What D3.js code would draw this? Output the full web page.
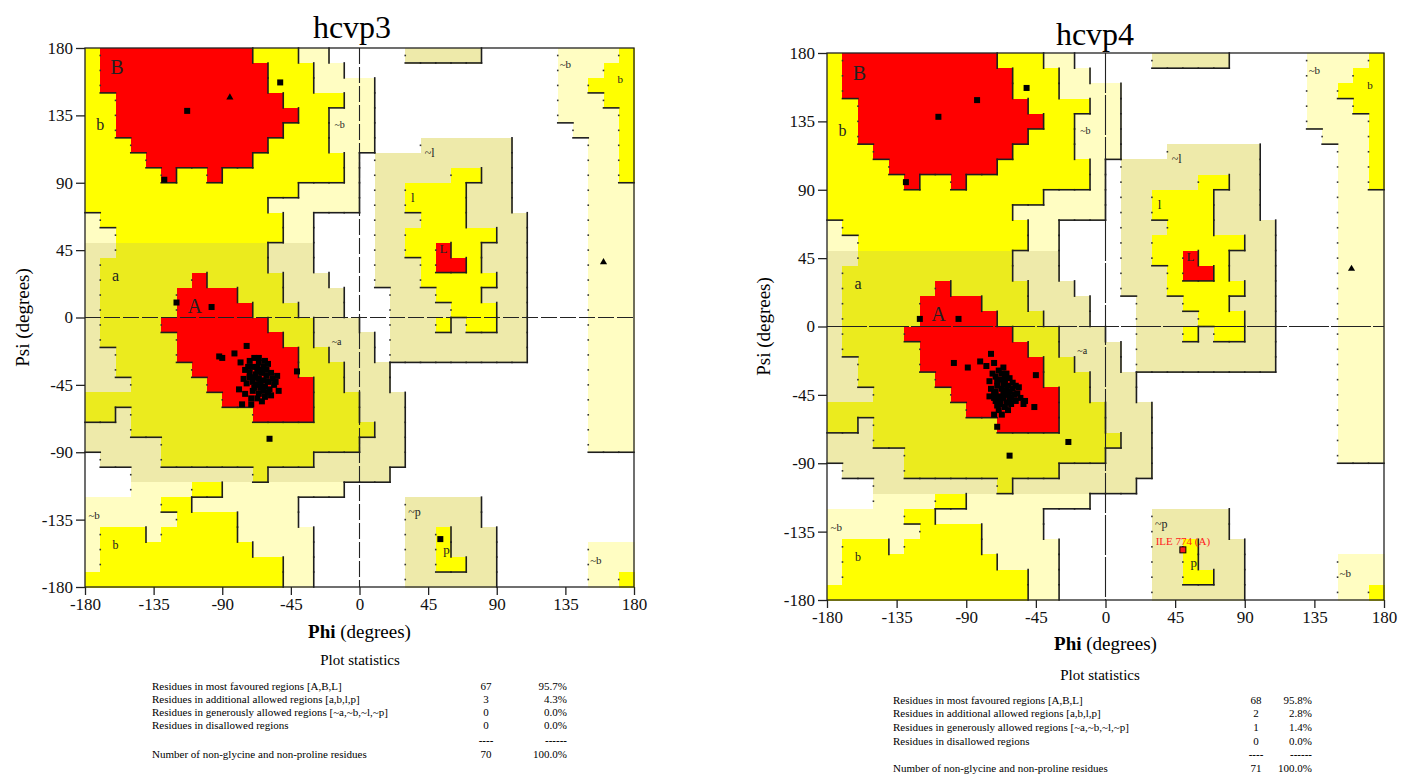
<!DOCTYPE html>
<meta charset="utf-8">
<script src="https://d3js.org/d3.v7.min.js"></script>
<style>
  body { margin: 0; background: #fff; }
  text { font-family: "Liberation Serif", "Times New Roman", serif; }
</style>
<div id="my_dataviz"></div>

<script>

// Region map on a 10 degree grid, top row = psi 170..180, left col = phi -180..-170
// R core, Y allowed (b,l,p), y allowed (a), k generous (~a,~l,~p), c generous (~b), W disallowed
var regionRows = [
  "Y R10 Y3 c2 W5 k5 W5 c4 Y",
  "Y R11 Y3 c2 W14 c3 Y2",
  "Y R11 Y3 c4 W12 c2 Y3",
  "Y2 R11 Y4 c2 W12 c3 Y2",
  "Y2 R12 Y2 c3 W12 c4 Y",
  "Y2 R11 Y3 c3 W13 c3 Y",
  "Y3 R9 Y4 c3 W3 k6 W5 c2 Y",
  "Y4 R7 Y6 c W k9 W5 c2 Y",
  "Y5 R Y2 R Y8 c W k5 Y2 k2 W5 c2 Y",
  "Y14 c4 W k2 Y4 k3 W5 c3",
  "Y12 c6 W k2 Y4 k3 W5 c3",
  "c Y12 c2 W4 k3 Y3 k4 W4 c3",
  "c2 Y11 c2 W4 k2 Y6 k2 W4 c3",
  "k2 y10 k3 W4 k2 Y2 R Y2 k3 W4 c3",
  "k y11 k3 W4 k3 Y R2 Y k3 W4 c3",
  "k y6 R y5 k3 W3 k3 Y5 k2 W4 c3",
  "k y5 R4 y3 k4 W3 k3 Y3 k3 W4 c3",
  "k y5 R5 y3 k3 W3 k4 Y3 k2 W4 c3",
  "k y4 R7 y3 k3 W2 k3 Y k Y2 k2 W4 c3",
  "k y5 R7 y2 k4 W k9 W4 c3",
  "k2 y4 R8 y2 k3 W k9 W4 c3",
  "k2 y5 R7 y3 k3 W13 c3",
  "k3 y5 R7 y2 k3 W13 c3",
  "y9 R6 y3 k3 W12 c3",
  "y2 k y8 R4 y3 k3 W12 c3",
  "k3 y16 k2 W12 c3",
  "k5 y13 k3 W12 c3",
  "W k4 y10 k6 W15",
  "W3 k8 y k8 W16",
  "W3 c4 Y2 c8 W19",
  "c5 Y2 c7 W7 k5 W10",
  "c6 Y4 c4 W7 k5 W10",
  "c Y3 c Y5 c5 W6 k2 Y k3 W9",
  "c Y10 c4 W6 k2 Y k3 W6 c3",
  "c Y12 c2 W6 k2 Y2 k2 W6 c3",
  "Y13 c2 W6 k6 W6 c2 Y"
];

var angleTicks = [-180, -135, -90, -45, 0, 45, 90, 135, 180];

// region labels [text, phi, psi, size]
var regionLabels = [
  ["B", -159, 167, 20], ["b", -170, 129, 16], ["~b", -13, 129, 10],
  ["a", -160, 28, 16], ["A", -108, 8, 20], ["~a", -15, -16, 10],
  ["~b", -174, -132, 11], ["b", -160, -152, 12],
  ["~l", 46, 110, 12], ["l", 35, 80, 13], ["L", 55, 46, 13],
  ["~b", 135, 169, 11], ["b", 171, 159, 11],
  ["~p", 36, -130, 12], ["p", 57, -155, 13], ["~b", 155, -162, 11]
];

// hcvp3 residues [phi, psi]
var hcvp3Residues = [
  [-52,157],[-113,138],[-128,92],[-120,10],[-97,7],[53,-148],
  [-74,-19],[-92,-26],[-90,-27],[-82,-24],[-41,-36],[-59,-81],
  [-78,-30],[-72,-29],[-69,-27],[-66,-30],[-63,-33],[-70,-33],[-75,-35],[-67,-36],
  [-64,-37],[-61,-35],[-58,-37],[-54,-39],[-69,-40],[-66,-41],[-63,-42],[-60,-43],
  [-72,-40],[-79,-48],[-68,-45],[-65,-47],[-62,-46],[-59,-48],[-56,-45],[-53,-49],
  [-70,-49],[-66,-51],[-62,-53],[-58,-52],[-74,-44],[-71,-54],[-77,-58],[-71,-58],
  [-64,-56],[-67,-33],[-65,-44],[-61,-39],[-68,-38],[-63,-49],[-72,-37],[-57,-41],
  [-66,-27],[-60,-31],[-69,-47],[-73,-33],[-67,-54],[-75,-51],[-64,-35],[-55,-43],
  [-70,-43],[-62,-29],[-76,-41],[-60,-50]
];
var hcvp3Glycines = [[-85,147],[160,37]];

// hcvp4 residues [phi, psi]
var hcvp4Residues = [
  [-51,157],[-83,149],[-108,138],[-129,95],[-120,5],[-95,5],
  [-98,-24],[-89,-27],[-81,-23],[-74,-18],[-45,-32],[-46,-53],[-52,-49],
  [-72,-58],[-70,-66],[-62,-85],[-24,-76],
  [-77,-26],[-72,-24],[-69,-29],[-66,-27],[-64,-31],[-71,-33],[-75,-36],[-68,-35],
  [-65,-37],[-62,-34],[-70,-39],[-67,-41],[-64,-42],[-72,-44],[-69,-46],[-66,-47],
  [-63,-45],[-60,-41],[-57,-44],[-55,-47],[-58,-49],[-61,-51],[-68,-51],[-65,-53],
  [-71,-49],[-74,-41],[-67,-31],[-63,-39],[-70,-36],[-66,-44],[-62,-48],[-69,-55],
  [-73,-31],[-60,-37],[-56,-40],[-64,-50],[-67,-58],[-71,-43],[-65,-34],[-59,-45],
  [-53,-51],[-68,-48],[-62,-43],[-75,-46],[-70,-52],[-63,-55],[-58,-39],[-66,-38],
  [-72,-47],[-61,-47]
];
var hcvp4Glycines = [[159,38]];
var hcvp4Flagged = [[50,-147,"ILE 774 (A)"]];

// statistics
var statLabels = [
  "Residues in most favoured regions  [A,B,L]",
  "Residues in additional allowed regions  [a,b,l,p]",
  "Residues in generously allowed regions  [~a,~b,~l,~p]",
  "Residues in disallowed regions",
  "Number of non-glycine and non-proline residues"
];
var hcvp3Counts = ["67", "3", "0", "0", "70"];
var hcvp3Pcts = ["95.7%", "4.3%", "0.0%", "0.0%", "100.0%"];
var hcvp4Counts = ["68", "2", "1", "0", "71"];
var hcvp4Pcts = ["95.8%", "2.8%", "1.4%", "0.0%", "100.0%"];

// ---------------------------------------------------------------
var svg = d3.select('#my_dataviz')
  .append('svg')
    .attr('width', 1411)
    .attr('height', 776);

var fillFor = { R: '#ff0000', Y: '#ffff00', y: '#ebeb1e', k: '#eeeaaa', c: '#fffdc2', W: '#ffffff' };
var levelFor = { R: 3, Y: 2, y: 2, k: 1, c: 1, W: 0 };

function expandRow(s) {
  var out = [];
  s.split(' ').forEach(function(tok) {
    var n = tok.length > 1 ? +tok.slice(1) : 1;
    for (var i = 0; i < n; i++) out.push(tok[0]);
  });
  return out;
}
var grid = regionRows.map(expandRow);

function drawPanel(p) {
  var w = p.x1 - p.x0, h = p.y1 - p.y0;
  var g = svg.append('g').attr('transform', 'translate(' + p.x0 + ',' + p.y0 + ')');

  var x = d3.scaleLinear().domain([-180, 180]).range([0, w]);
  var y = d3.scaleLinear().domain([-180, 180]).range([h, 0]);

  // cells
  var cells = [];
  grid.forEach(function(row, r) {
    row.forEach(function(code, c) {
      cells.push({ r: r, c: c, code: code, phi: -180 + 10 * c, psi: 180 - 10 * r });
    });
  });
  g.append('g')
    .selectAll('rect')
    .data(cells.filter(function(d) { return d.code !== 'W'; }))
    .enter()
    .append('rect')
      .attr('x', function(d) { return x(d.phi); })
      .attr('y', function(d) { return y(d.psi); })
      .attr('width', function(d) { return x(d.phi + 10) - x(d.phi) + 0.6; })
      .attr('height', function(d) { return y(d.psi - 10) - y(d.psi) + 0.6; })
      .attr('fill', function(d) { return fillFor[d.code]; })
      .attr('shape-rendering', 'crispEdges');

  // region borders: solid on right / bottom edges of a higher region, dots on left edges
  var segs = [], dots = [];
  for (var r = 0; r < 36; r++) {
    for (var c = 0; c < 36; c++) {
      var lv = levelFor[grid[r][c]];
      var phi = -180 + 10 * c, psi = 180 - 10 * r;
      if (c < 35) {
        var lr = levelFor[grid[r][c + 1]];
        if (lv > lr) segs.push([x(phi + 10), y(psi), x(phi + 10), y(psi - 10)]);
        else if (lr > lv) dots.push([x(phi + 10), y(psi - 5)]);
      }
      if (r < 35) {
        var lb = levelFor[grid[r + 1][c]];
        if (lv > lb) segs.push([x(phi), y(psi - 10), x(phi + 10), y(psi - 10)]);
      }
    }
  }
  g.append('g')
    .selectAll('line')
    .data(segs)
    .enter()
    .append('line')
      .attr('x1', function(d) { return d[0]; })
      .attr('y1', function(d) { return d[1]; })
      .attr('x2', function(d) { return d[2]; })
      .attr('y2', function(d) { return d[3]; })
      .attr('stroke', '#1e1e1e')
      .attr('stroke-width', 1.6)
      .attr('stroke-linecap', 'square');
  g.append('g')
    .selectAll('rect')
    .data(dots)
    .enter()
    .append('rect')
      .attr('x', function(d) { return d[0] - 0.8; })
      .attr('y', function(d) { return d[1] - 0.8; })
      .attr('width', 1.6)
      .attr('height', 1.6)
      .attr('fill', '#333');

  // zero lines
  g.append('line')
    .attr('x1', 0).attr('x2', w).attr('y1', y(0)).attr('y2', y(0))
    .attr('stroke', '#222').attr('stroke-width', 1.1)
    .attr('stroke-dasharray', p.dash);
  g.append('line')
    .attr('x1', x(0)).attr('x2', x(0)).attr('y1', 0).attr('y2', h)
    .attr('stroke', '#222').attr('stroke-width', 1.1)
    .attr('stroke-dasharray', p.dash);

  // region labels
  g.append('g')
    .selectAll('text')
    .data(regionLabels)
    .enter()
    .append('text')
      .attr('x', function(d) { return x(d[1]); })
      .attr('y', function(d) { return y(d[2]); })
      .attr('text-anchor', 'middle')
      .attr('dominant-baseline', 'central')
      .attr('font-size', function(d) { return d[3]; })
      .attr('fill', '#222')
      .text(function(d) { return d[0]; });

  // residues
  var s = 6;
  g.append('g')
    .selectAll('rect')
    .data(p.residues)
    .enter()
    .append('rect')
      .attr('x', function(d) { return x(d[0]) - s / 2; })
      .attr('y', function(d) { return y(d[1]) - s / 2; })
      .attr('width', s)
      .attr('height', s)
      .attr('fill', '#000');

  g.append('g')
    .selectAll('path')
    .data(p.glycines)
    .enter()
    .append('path')
      .attr('d', d3.symbol().type(d3.symbolTriangle).size(22))
      .attr('transform', function(d) { return 'translate(' + x(d[0]) + ',' + y(d[1]) + ')'; })
      .attr('fill', '#000');

  var fl = g.append('g')
    .selectAll('g')
    .data(p.flagged)
    .enter()
    .append('g');
  fl.append('rect')
    .attr('x', function(d) { return x(d[0]) - 3; })
    .attr('y', function(d) { return y(d[1]) - 3; })
    .attr('width', 6)
    .attr('height', 6)
    .attr('fill', '#ff1a1a')
    .attr('stroke', '#000')
    .attr('stroke-width', 1);
  fl.append('text')
    .attr('x', function(d) { return x(d[0]); })
    .attr('y', function(d) { return y(d[1]) - 5; })
    .attr('text-anchor', 'middle')
    .attr('font-size', 11)
    .attr('fill', '#ff2020')
    .text(function(d) { return d[2]; });

  // frame
  g.append('rect')
    .attr('width', w).attr('height', h)
    .attr('fill', 'none').attr('stroke', '#222').attr('stroke-width', 1.3);

  // axes
  var ax = g.append('g')
    .attr('transform', 'translate(0,' + h + ')')
    .call(d3.axisBottom(x).tickValues(angleTicks).tickSize(8).tickPadding(3)
      .tickFormat(function(d) { return String(d); }));
  var ay = g.append('g')
    .call(d3.axisLeft(y).tickValues(angleTicks).tickSize(9).tickPadding(3)
      .tickFormat(function(d) { return String(d); }));
  [ax, ay].forEach(function(a) {
    a.select('.domain').remove();
    a.attr('font-family', '"Liberation Serif", serif').attr('font-size', 17);
    a.selectAll('line').attr('stroke', '#222').attr('stroke-width', 1.3);
    a.selectAll('text').attr('fill', '#111');
  });

  // title + axis titles
  svg.append('text')
    .attr('x', p.titleX).attr('y', p.titleY)
    .attr('text-anchor', 'middle')
    .attr('font-size', 32)
    .text(p.title);

  var xt = svg.append('text')
    .attr('x', p.x0 + x(0)).attr('y', p.phiY)
    .attr('text-anchor', 'middle')
    .attr('font-size', 19);
  xt.append('tspan').attr('font-weight', 'bold').text('Phi');
  xt.append('tspan').text(' (degrees)');

  svg.append('text')
    .attr('transform', 'translate(' + p.psiX + ',' + (p.y0 + y(0)) + ') rotate(-90)')
    .attr('text-anchor', 'middle')
    .attr('dominant-baseline', 'central')
    .attr('font-size', 19)
    .text('Psi (degrees)');

  // statistics
  var st = p.stats;
  svg.append('text')
    .attr('x', st.cx).attr('y', st.titleY)
    .attr('text-anchor', 'middle')
    .attr('font-size', 15)
    .text('Plot statistics');
  statLabels.forEach(function(lab, i) {
    var yy = st.rows[i];
    svg.append('text').attr('x', st.labelX).attr('y', yy).attr('font-size', 11).text(lab);
    svg.append('text').attr('x', st.countX).attr('y', yy).attr('font-size', 11)
      .attr('text-anchor', 'middle').text(p.counts[i]);
    svg.append('text').attr('x', st.pctX).attr('y', yy).attr('font-size', 11)
      .attr('text-anchor', 'end').text(p.pcts[i]);
  });
  svg.append('text').attr('x', st.countX).attr('y', st.dashY).attr('font-size', 11)
    .attr('text-anchor', 'middle').attr('font-weight', 'bold').text('----');
  svg.append('text').attr('x', st.pctX).attr('y', st.dashY).attr('font-size', 11)
    .attr('text-anchor', 'end').attr('font-weight', 'bold').text('------');
}

drawPanel({
  title: 'hcvp3', titleX: 352, titleY: 38,
  x0: 85, x1: 634, y0: 48, y1: 587,
  phiY: 638, psiX: 22, dash: '16,3',
  residues: hcvp3Residues, glycines: hcvp3Glycines, flagged: [],
  counts: hcvp3Counts, pcts: hcvp3Pcts,
  stats: { cx: 360, titleY: 665, labelX: 152, countX: 486, pctX: 567,
           rows: [690, 703, 716, 729, 758], dashY: 744 }
});

drawPanel({
  title: 'hcvp4', titleX: 1095, titleY: 45,
  x0: 827, x1: 1384, y0: 53, y1: 600,
  phiY: 650, psiX: 763, dash: '40,2',
  residues: hcvp4Residues, glycines: hcvp4Glycines, flagged: hcvp4Flagged,
  counts: hcvp4Counts, pcts: hcvp4Pcts,
  stats: { cx: 1100, titleY: 680, labelX: 893, countX: 1256, pctX: 1312,
           rows: [704, 717, 731, 745, 772], dashY: 758 }
});

</script>
